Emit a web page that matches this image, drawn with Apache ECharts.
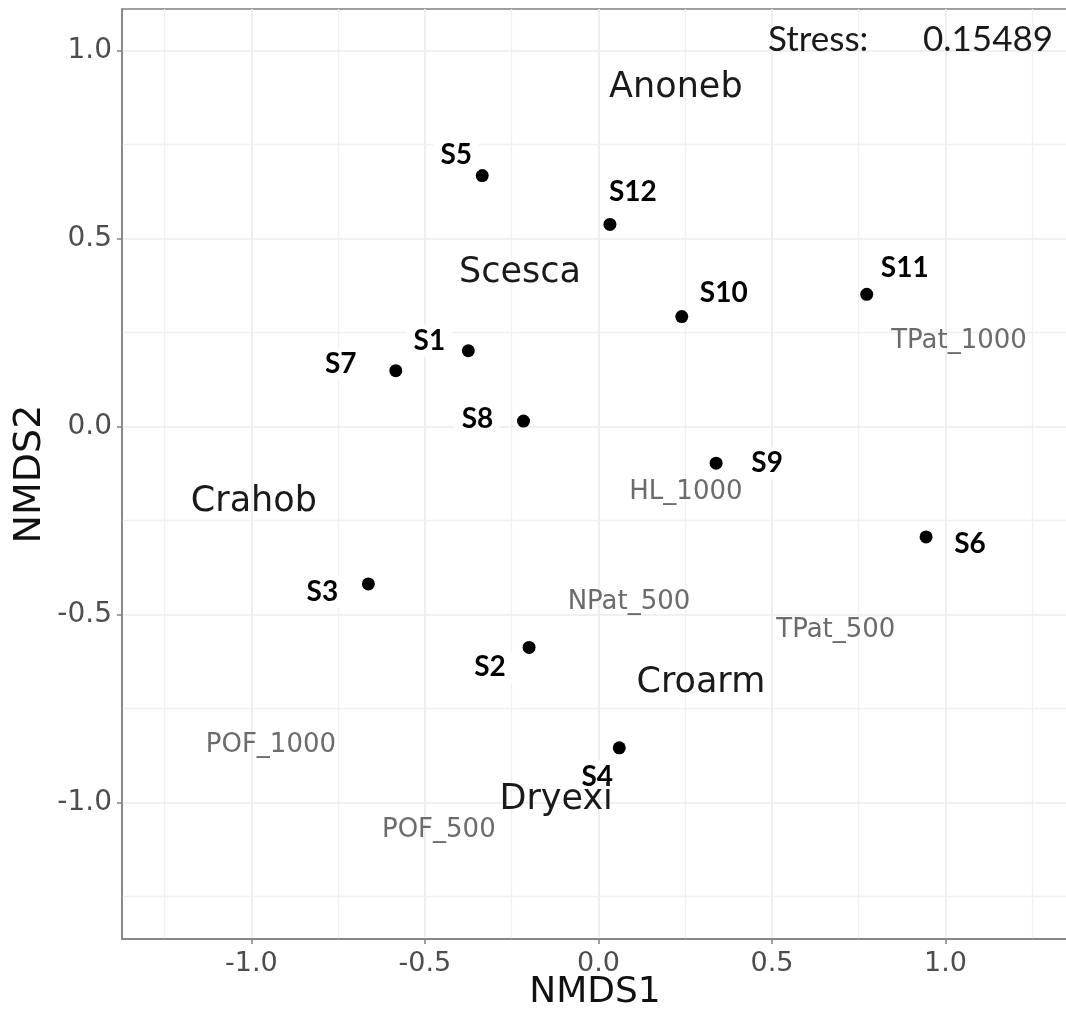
<!DOCTYPE html>
<html>
<head>
<meta charset="utf-8">
<script src="https://cdn.jsdelivr.net/npm/echarts@6/dist/echarts.min.js"></script>
<style>
html,body{margin:0;padding:0;background:#fff;}
#chart{width:1066px;height:1014px;}
</style>
</head>
<body>
<div id="chart"></div>
<script>
// ---- data ----
const sampleNames = ['S1','S2','S3','S4','S5','S6','S7','S8','S9','S10','S11','S12'];
const sampleNMDS1 = [-0.375, -0.200, -0.663, 0.060, -0.335, 0.944, -0.584, -0.216, 0.339, 0.240, 0.773, 0.033];
const sampleNMDS2 = [0.202, -0.587, -0.418, -0.854, 0.668, -0.293, 0.149, 0.015, -0.097, 0.293, 0.352, 0.538];

const speciesNames = ['Anoneb','Scesca','Crahob','Croarm','Dryexi'];
const speciesNMDS1 = [0.223, -0.226, -0.993, 0.295, -0.122];
const speciesNMDS2 = [0.900, 0.409, -0.200, -0.682, -0.993];

const envNames = ['TPat_1000','HL_1000','NPat_500','TPat_500','POF_1000','POF_500'];
const envNMDS1 = [1.039, 0.252, 0.088, 0.684, -0.944, -0.460];
const envNMDS2 = [0.228, -0.174, -0.466, -0.540, -0.847, -1.073];

const xTickValues = [-1.0, -0.5, 0.0, 0.5, 1.0];
const yTickValues = [-1.0, -0.5, 0.0, 0.5, 1.0];
const xMinorBreaks = [-1.25, -0.75, -0.25, 0.25, 0.75, 1.25];
const yMinorBreaks = [-1.25, -0.75, -0.25, 0.25, 0.75];

const stressLabel = 'Stress:';
const stressValue = '0.15489';

// ---- label placement (pixel offsets of sample labels from their points) ----
const sampleLabelOffsets = [[-39,-10],[-39,20],[-46,8],[-22,29],[-26,-21],[44,7],[-55,-7],[-46,-2],[51,0],[42,-24],[38,-26],[23,-32]];

const X_MIN = -1.373, X_MAX = 1.353, Y_MIN = -1.3625, Y_MAX = 1.111;

const chart = echarts.init(document.getElementById('chart'), null, {renderer: 'canvas'});

const gridColor = '#ebebeb';
const gridLines = [];
xTickValues.forEach(v => gridLines.push({xAxis: v, lineStyle: {color: gridColor, width: 1.6}}));
xMinorBreaks.forEach(v => gridLines.push({xAxis: v, lineStyle: {color: '#f0f0f0', width: 1.3}}));
yTickValues.forEach(v => gridLines.push({yAxis: v, lineStyle: {color: gridColor, width: 1.6}}));
yMinorBreaks.forEach(v => gridLines.push({yAxis: v, lineStyle: {color: '#f0f0f0', width: 1.3}}));

const sampleData = sampleNames.map((n, i) => ({
  name: n,
  value: [sampleNMDS1[i], sampleNMDS2[i]],
  label: {offset: sampleLabelOffsets[i]}
}));
const speciesData = speciesNames.map((n, i) => ({name: n, value: [speciesNMDS1[i], speciesNMDS2[i]]}));
const envData = envNames.map((n, i) => ({name: n, value: [envNMDS1[i], envNMDS2[i]]}));

const option = {
  animation: false,
  backgroundColor: '#ffffff',
  grid: {
    left: 122, right: -2, top: 9, bottom: 75,
    outerBoundsMode: 'none', containLabel: false,
    show: true, borderColor: '#808080', borderWidth: 1.5, backgroundColor: 'transparent'
  },
  xAxis: {
    type: 'value', min: X_MIN, max: X_MAX,
    axisLine: {show: true, onZero: false, lineStyle: {color: '#808080', width: 1.5}},
    axisTick: {show: true, customValues: xTickValues, length: 5, lineStyle: {color: '#808080', width: 1.5}},
    axisLabel: {customValues: xTickValues, formatter: v => Number(v).toFixed(1), fontFamily: 'DejaVu Sans', fontSize: 27, color: '#4d4d4d', margin: 11},
    splitLine: {show: false},
    name: 'NMDS1', nameLocation: 'middle', nameGap: 36, nameMoveOverlap: false,
    nameTextStyle: {fontFamily: 'DejaVu Sans', fontSize: 36, color: '#111'}
  },
  yAxis: {
    type: 'value', min: Y_MIN, max: Y_MAX,
    axisLine: {show: true, onZero: false, lineStyle: {color: '#808080', width: 1.5}},
    axisTick: {show: true, customValues: yTickValues, length: 5, lineStyle: {color: '#808080', width: 1.5}},
    axisLabel: {customValues: yTickValues, formatter: v => Number(v).toFixed(1), fontFamily: 'DejaVu Sans', fontSize: 28, color: '#4d4d4d', margin: 10},
    splitLine: {show: false},
    name: 'NMDS2', nameLocation: 'middle', nameGap: 73, nameRotate: 90, nameMoveOverlap: false,
    nameTextStyle: {fontFamily: 'DejaVu Sans', fontSize: 38, color: '#111'}
  },
  series: [
    {
      type: 'scatter', name: 'grid', data: [], z: 0, silent: true,
      markLine: {silent: true, z: 0, symbol: 'none', label: {show: false}, animation: false,
        lineStyle: {type: 'solid'}, data: gridLines}
    },
    {
      type: 'scatter', name: 'samples', z: 3, data: sampleData,
      symbol: 'circle', symbolSize: 13, itemStyle: {color: '#000', opacity: 1},
      label: {
        show: true, position: 'inside', formatter: p => p.name, opacity: 1,
        fontFamily: 'Lato', fontWeight: 'bold', fontSize: 28, color: '#000',
        textBorderWidth: 0, backgroundColor: '#fff', padding: [2, 7]
      }
    },
    {
      type: 'scatter', name: 'env', z: 5, data: envData,
      symbolSize: 1, itemStyle: {color: 'rgba(0,0,0,0)', opacity: 1},
      label: {show: true, position: 'inside', formatter: p => p.name, opacity: 1,
        fontFamily: 'DejaVu Sans', fontSize: 26, color: '#6b6b6b', textBorderWidth: 0}
    },
    {
      type: 'scatter', name: 'species', z: 6, data: speciesData,
      symbolSize: 1, itemStyle: {color: 'rgba(0,0,0,0)', opacity: 1},
      label: {show: true, position: 'inside', formatter: p => p.name, opacity: 1,
        fontFamily: 'DejaVu Sans', fontSize: 35, color: '#1a1a1a', textBorderWidth: 0}
    }
  ],
  graphic: [
    {type: 'text', left: 768, top: 22, z: 10,
      style: {text: stressLabel, fontFamily: 'Lato', fontSize: 35, fill: '#1a1a1a'}},
    {type: 'text', left: 923, top: 22, z: 10,
      style: {text: stressValue, fontFamily: 'Lato', fontSize: 35, fill: '#1a1a1a'}}
  ]
};
chart.setOption(option);
</script>
</body>
</html>
